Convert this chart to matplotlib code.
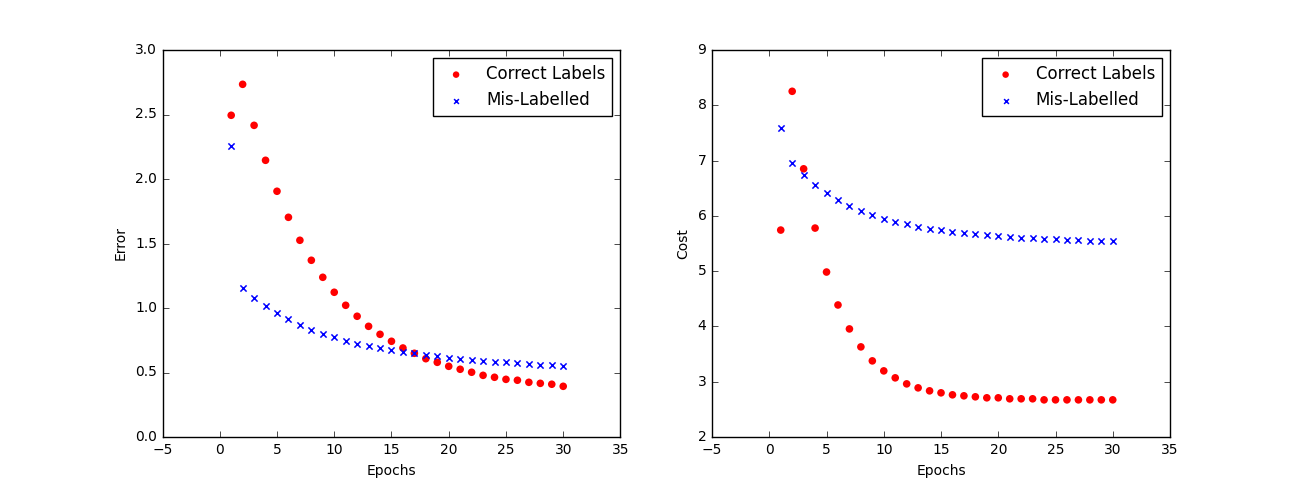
import matplotlib
matplotlib.use("Agg")
import matplotlib.pyplot as plt

epochs = list(range(1, 31))

# Error curves (left panel)
error_correct = [2.494, 2.734, 2.416, 2.145, 1.905, 1.703, 1.525, 1.370, 1.238, 1.122,
                 1.021, 0.936, 0.858, 0.796, 0.742, 0.690, 0.649, 0.607, 0.579, 0.548,
                 0.525, 0.502, 0.478, 0.463, 0.447, 0.440, 0.424, 0.416, 0.409, 0.393]
error_mislabelled = [2.258, 1.157, 1.079, 1.017, 0.963, 0.916, 0.870, 0.831, 0.800, 0.777,
                     0.746, 0.723, 0.707, 0.692, 0.676, 0.661, 0.653, 0.637, 0.630, 0.614,
                     0.606, 0.598, 0.590, 0.583, 0.583, 0.575, 0.567, 0.559, 0.559, 0.551]

# Cost curves (right panel)
cost_correct = [5.743, 8.253, 6.851, 5.779, 4.984, 4.388, 3.955, 3.630, 3.377, 3.196,
                3.070, 2.961, 2.889, 2.835, 2.799, 2.763, 2.745, 2.727, 2.709, 2.709,
                2.691, 2.691, 2.691, 2.672, 2.672, 2.672, 2.672, 2.672, 2.672, 2.672]
cost_mislabelled = [7.585, 6.953, 6.736, 6.556, 6.411, 6.285, 6.176, 6.086, 6.014, 5.942,
                    5.887, 5.851, 5.797, 5.761, 5.743, 5.707, 5.689, 5.671, 5.653, 5.635,
                    5.617, 5.598, 5.598, 5.580, 5.580, 5.562, 5.562, 5.544, 5.544, 5.544]

plt.style.use("classic")

fig, (ax1, ax2) = plt.subplots(1, 2, figsize=(13, 5), dpi=100)
fig.patch.set_facecolor("white")
fig.subplots_adjust(left=0.125, right=0.9, top=0.9, bottom=0.126, wspace=0.2)

panels = [
    (ax1, error_correct, error_mislabelled, "Error", (0, 3)),
    (ax2, cost_correct, cost_mislabelled, "Cost", (2, 9)),
]
for ax, correct, mis, ylabel, ylim in panels:
    ax.scatter(epochs, correct, c="r", marker="o", s=30, edgecolors="none",
               label="Correct Labels")
    ax.scatter(epochs, mis, c="b", marker="x", s=20, linewidths=1.1,
               label="Mis-Labelled")
    ax.set_xlim(-5, 35)
    ax.set_ylim(*ylim)
    ax.set_xlabel("Epochs", fontsize=10)
    ax.set_ylabel(ylabel, fontsize=10)
    ax.tick_params(labelsize=10)
    leg = ax.legend(loc="upper right", scatterpoints=1, fontsize=12)
    # legend markers are drawn a bit smaller than the data markers
    leg.legend_handles[0].set_sizes([22])
    leg.legend_handles[1].set_sizes([12])

fig.savefig("out.png", dpi=100, facecolor="white")
